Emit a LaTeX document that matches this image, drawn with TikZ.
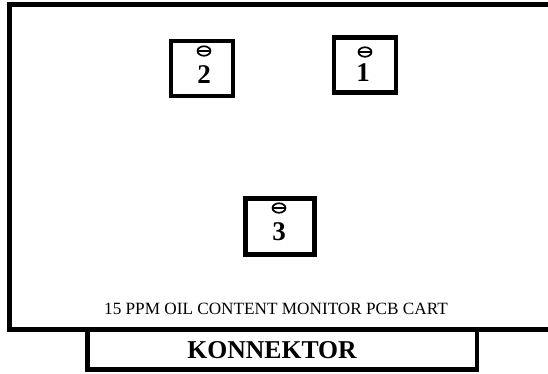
\documentclass[tikz,border=0pt]{standalone}
\usepackage{fontspec}
\setmainfont{Liberation Serif}
\usetikzlibrary{positioning}
\usetikzlibrary{shapes.geometric}
\tikzset{
    frame/.style={line width=4.5pt, line join=miter},
    portbox/.style={draw, line width=4.5pt, minimum width=#1, minimum height=55pt, inner sep=0pt},
    portnum/.style={font=\fontsize{27}{27}\selectfont\bfseries, inner sep=0pt},
    screw/.style={draw, ellipse, line width=1.7pt, minimum width=13pt, minimum height=9.5pt, inner sep=0pt},
}
\begin{document}
\begin{tikzpicture}[x=1pt,y=-1pt]
		\useasboundingbox (0,0) rectangle (548,373);
		\draw[frame] (548,4.5) -- (9.5,4.5) -- (9.5,329.5) -- (548,329.5);
		\draw[frame] (87.5,331) -- (87.5,369.5) -- (477,369.5) -- (477,331);
		\node[portbox=62pt] (port2) at (202,68.5) {};
		\node[portbox=62pt] (port1) at (365,65) {};
		\node[portbox=69pt, minimum height=56pt] (port3) at (280,226.5) {};
		\node[screw] (screw2) at (204,51) {};
		\draw[line width=1.2pt] (screw2.west) -- (screw2.east);
		\node[screw] (screw1) at (365,52) {};
		\draw[line width=1.2pt] (screw1.west) -- (screw1.east);
		\node[screw] (screw3) at (279,208) {};
		\draw[line width=1.2pt] (screw3.west) -- (screw3.east);
		\node[portnum] (num2) at (204,75) {2};
		\node[portnum] (num1) at (363,73) {1};
		\node[portnum] (num3) at (279,232) {3};
		\node[font=\fontsize{17.2}{18}\selectfont, inner sep=0pt] (title) at (276,309) {15 PPM OIL CONTENT MONITOR PCB CART};
		\node[font=\fontsize{25.7}{26}\selectfont\bfseries, inner sep=0pt] (konnektor) at (272,350) {KONNEKTOR};
	\end{tikzpicture}
\end{document}
